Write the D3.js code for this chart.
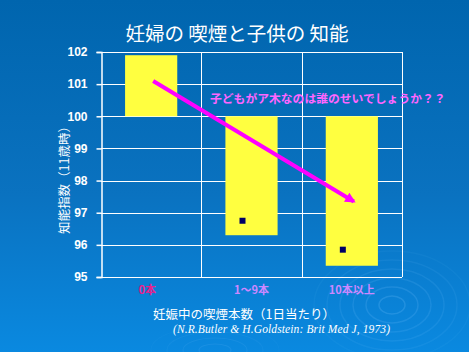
<!DOCTYPE html>
<html>
<head>
<meta charset="utf-8">
<style>
  body { margin: 0; background: #0066b0; }
  svg { display: block; }
</style>
</head>
<body>
<svg id="cont" width="469" height="352"></svg>
<script src="https://cdn.jsdelivr.net/npm/d3@7/dist/d3.min.js"></script>
<script>
// data
var categories = ["0本", "1〜9本", "10本以上"];
var barValues = [101.9, 96.3, 95.35];
var markerValues = [null, 96.75, 95.85];
var yTicks = [95, 96, 97, 98, 99, 100, 101, 102];
var arrowValues = [101.1, 97.35]; // from first category to last
var labelColors = ["#e8208c", "#cc88ff", "#cc88ff"];

var svg = d3.select("#cont");
var W = 469, H = 352;
var margin = {left: 101, right: 67, top: 52, bottom: 75};

// background
var defs = svg.append("defs");
var grad = defs.append("linearGradient").attr("id", "bg")
    .attr("x1", 0).attr("y1", 0).attr("x2", 0).attr("y2", 1);
grad.append("stop").attr("offset", "0%").attr("stop-color", "#0065ae");
grad.append("stop").attr("offset", "55%").attr("stop-color", "#0a72c0");
grad.append("stop").attr("offset", "100%").attr("stop-color", "#0a89e0");
svg.append("rect").attr("width", W).attr("height", H).attr("fill", "url(#bg)");

// faint ripples
var ripples = svg.append("g").attr("fill", "none").attr("stroke", "#7cc4ff");
d3.range(1, 7).forEach(function(i) {
  ripples.append("ellipse").attr("cx", 392).attr("cy", 305)
    .attr("rx", i * 13).attr("ry", i * 9)
    .attr("stroke-opacity", 0.24 - i * 0.03).attr("stroke-width", 1.5);
});
d3.range(1, 5).forEach(function(i) {
  ripples.append("ellipse").attr("cx", 215).attr("cy", 350)
    .attr("rx", i * 16).attr("ry", i * 6)
    .attr("stroke-opacity", 0.16 - i * 0.03).attr("stroke-width", 1.2);
});

// arrow marker
defs.append("marker").attr("id", "arrow")
  .attr("viewBox", "0 0 10 10").attr("refX", 8).attr("refY", 5)
  .attr("markerWidth", 3).attr("markerHeight", 2.6)
  .attr("orient", "auto")
  .append("path").attr("d", "M0,0 L10,5 L0,10 z").attr("fill", "#ff00ff");

var x = d3.scaleBand().domain(categories)
  .range([margin.left, W - margin.right]).padding(0);
var y = d3.scaleLinear().domain([95, 102])
  .range([H - margin.bottom, margin.top]);

var bw = x.bandwidth();

// title
svg.append("text").attr("x", 237).attr("y", 41)
  .attr("text-anchor", "middle")
  .attr("font-family", "'Noto Sans CJK JP'")
  .attr("font-size", 19.5).attr("fill", "#ffffff")
  .text("妊婦の 喫煙と子供の 知能");

// grid
var grid = svg.append("g").attr("stroke", "#ffffff").attr("stroke-width", 1);
grid.selectAll(".h").data(yTicks).enter().append("line")
  .attr("x1", margin.left).attr("x2", W - margin.right)
  .attr("y1", d => Math.round(y(d)) + 0.5).attr("y2", d => Math.round(y(d)) + 0.5);
grid.selectAll(".v").data(categories).enter().append("line")
  .attr("x1", d => Math.round(x(d) + bw) + 0.5).attr("x2", d => Math.round(x(d) + bw) + 0.5)
  .attr("y1", margin.top).attr("y2", H - margin.bottom);

// bars (from baseline 100)
svg.selectAll(".bar").data(categories).enter().append("rect")
  .attr("x", d => x(d) + bw * 0.24)
  .attr("width", bw * 0.52)
  .attr("y", (d, i) => y(Math.max(100, barValues[i])))
  .attr("height", (d, i) => Math.abs(y(barValues[i]) - y(100)))
  .attr("fill", "#ffff40");

// markers
svg.selectAll(".mk").data(categories.filter((d, i) => markerValues[i] != null))
  .enter().append("rect")
  .attr("x", d => x(d) + bw / 2 - 9 - 3)
  .attr("y", d => y(markerValues[categories.indexOf(d)]) - 3)
  .attr("width", 6).attr("height", 6)
  .attr("fill", "#000066");

// y axis
var yAxis = svg.append("g")
  .attr("transform", "translate(" + (margin.left + 0.5) + ",0)")
  .call(d3.axisLeft(y).tickValues(yTicks).tickSize(5).tickPadding(9).tickFormat(d3.format("d")));
yAxis.select(".domain").attr("stroke", "#ffffff").attr("stroke-width", 1.5);
yAxis.selectAll(".tick line").attr("stroke", "#ffffff").attr("stroke-width", 1.5);
yAxis.selectAll(".tick text")
  .attr("fill", "#ffffff")
  .attr("font-family", "'Liberation Sans', Arial, sans-serif")
  .attr("font-weight", "bold").attr("font-size", 12);

// y title
svg.append("text")
  .attr("transform", "translate(69," + 177 + ") rotate(-90)")
  .attr("text-anchor", "middle")
  .attr("font-family", "'Noto Sans CJK JP'")
  .attr("font-size", 12.5).attr("fill", "#ffffff")
  .text("知能指数（11歳時）");

// arrow
svg.append("line")
  .attr("x1", x(categories[0]) + bw / 2 + 2).attr("y1", y(arrowValues[0]))
  .attr("x2", x(categories[2]) + bw / 2 + 2).attr("y2", y(arrowValues[1]))
  .attr("stroke", "#ff00ff").attr("stroke-width", 4)
  .attr("marker-end", "url(#arrow)");

// annotation
svg.append("text").attr("x", 210).attr("y", 103)
  .attr("font-family", "'Noto Sans CJK JP'")
  .attr("font-size", 11.8).attr("font-weight", "bold")
  .attr("fill", "#ff66ff")
  .text("子どもがア木なのは誰のせいでしょうか？？");

// category labels
svg.selectAll(".cat").data(categories).enter().append("text")
  .attr("x", (d, i) => x(d) + bw / 2 - (i === 0 ? 4 : 0))
  .attr("y", H - margin.bottom + 17)
  .attr("text-anchor", "middle")
  .attr("font-family", "'Noto Sans CJK JP'")
  .attr("font-weight", "bold").attr("font-size", 11)
  .attr("fill", (d, i) => labelColors[i])
  .text(d => d);

// x title
svg.append("text").attr("x", 153).attr("y", 319)
  .attr("font-family", "'Noto Sans CJK JP'")
  .attr("font-size", 12.5).attr("fill", "#ffffff")
  .text("妊娠中の喫煙本数（1日当たり）");

svg.append("text").attr("x", 173).attr("y", 333)
  .attr("font-family", "'Liberation Serif', 'Times New Roman', serif")
  .attr("font-style", "italic")
  .attr("font-size", 11.5).attr("fill", "#ffffff")
  .attr("textLength", 217).attr("lengthAdjust", "spacing")
  .text("(N.R.Butler  & H.Goldstein: Brit Med J, 1973)");
</script>
</body>
</html>
